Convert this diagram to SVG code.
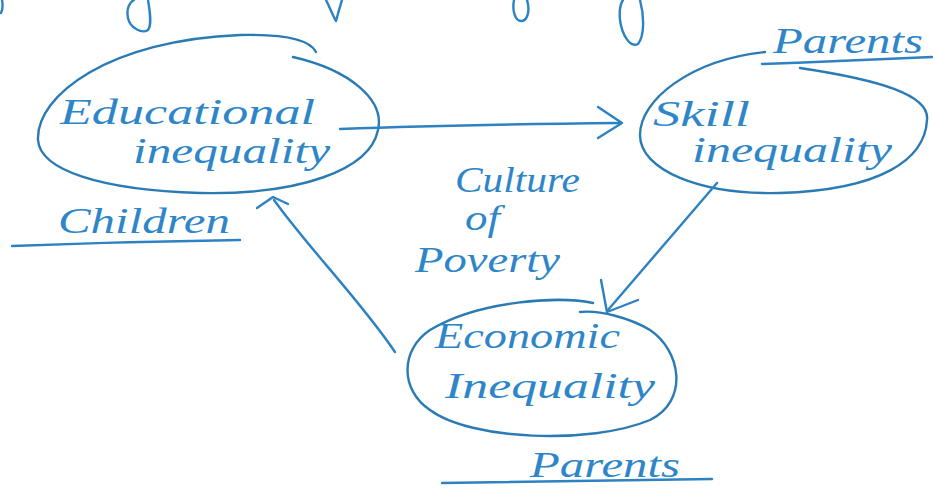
<svg xmlns="http://www.w3.org/2000/svg" width="934" height="495" viewBox="0 0 934 495">
  <style>
    .ink { fill: none; stroke: #2c82c2; stroke-width: 2.4; stroke-linecap: round; stroke-linejoin: round; }
    .rim { fill: none; stroke: #2a7bb4; stroke-width: 2.4; stroke-linecap: round; }
    .hand { font-family: "Liberation Serif", "DejaVu Serif", serif; font-style: italic; fill: #2e86c8; font-size: 36px; }
  </style>
  <rect width="934" height="495" fill="#ffffff"/>

  <!-- pen strokes running off the top edge -->
  <g id="top-strokes" class="ink">
    <path d="M2,0 C3,5 3,9 1,13"/>
    <path d="M148,0 C150,12 152,25 148,30 C142,34 130,28 128,18 C126,8 130,2 134,0"/>
    <path d="M326,0 C330,8 333,16 336,21 C338,14 340,6 342,0"/>
    <path d="M527,0 C530,10 528,20 522,21 C515,22 512,10 514,0"/>
    <path d="M640,0 C644,15 645,35 638,44 C630,48 622,35 620,20 C619,10 621,3 623,0"/>
  </g>

  <g id="educational">
    <path class="rim" d="M293,57 C350,70 385,100 378,130 C370,170 300,195 200,193 C100,190 40,170 38,140 C36,95 110,40 240,35 C285,34 310,40 316,52"/>
    <text class="hand" x="60" y="124" font-size="38" textLength="255" lengthAdjust="spacingAndGlyphs">Educational</text>
    <text class="hand" x="133" y="163" textLength="197" lengthAdjust="spacingAndGlyphs">inequality</text>
  </g>

  <g id="children">
    <text class="hand" x="58" y="233" font-size="38" textLength="172" lengthAdjust="spacingAndGlyphs">Children</text>
    <path class="ink" d="M12,246 C90,243 170,241 240,240"/>
  </g>

  <g id="skill">
    <path class="rim" d="M800,68 C880,80 930,95 927,120 C925,160 880,190 780,193 C700,195 640,170 640,135 C640,100 690,60 765,52"/>
    <text class="hand" x="653" y="126" font-size="38" textLength="97" lengthAdjust="spacingAndGlyphs">Skill</text>
    <text class="hand" x="692" y="162" textLength="200" lengthAdjust="spacingAndGlyphs">inequality</text>
  </g>

  <g id="parents-top">
    <text class="hand" x="773" y="53" font-size="40" textLength="150" lengthAdjust="spacingAndGlyphs">Parents</text>
    <path class="ink" d="M762,64 C820,62 880,59 932,57"/>
  </g>

  <g id="culture-of-poverty">
    <text class="hand" x="455" y="192" font-size="32" textLength="125" lengthAdjust="spacingAndGlyphs">Culture</text>
    <text class="hand" x="465" y="230" font-size="32" textLength="35" lengthAdjust="spacingAndGlyphs">of</text>
    <text class="hand" x="415" y="272" font-size="34" textLength="145" lengthAdjust="spacingAndGlyphs">Poverty</text>
  </g>

  <g id="economic">
    <path class="rim" d="M593,303 C560,296 480,300 430,330 C400,350 400,390 430,410 C470,440 590,445 650,420 C690,400 680,350 650,330 C630,318 600,310 580,312"/>
    <text class="hand" x="435" y="348" textLength="185" lengthAdjust="spacingAndGlyphs">Economic</text>
    <text class="hand" x="445" y="398" font-size="38" textLength="210" lengthAdjust="spacingAndGlyphs">Inequality</text>
  </g>

  <g id="parents-bottom">
    <text class="hand" x="530" y="477" font-size="40" textLength="150" lengthAdjust="spacingAndGlyphs">Parents</text>
    <path class="ink" d="M442,483 C540,481 630,480 712,479"/>
  </g>

  <g id="connectors" class="ink">
    <!-- Educational -> Skill -->
    <path d="M340,129 C420,126 520,124 620,123"/>
    <path d="M598,107 L622,123 L598,138"/>
    <!-- Skill -> Economic -->
    <path d="M717,183 L608,310"/>
    <path d="M601,280 L607,312 L638,300"/>
    <!-- Economic -> Educational -->
    <path d="M395,352 C360,300 310,250 274,200"/>
    <path d="M257,208 L273,197 L288,204"/>
  </g>
</svg>
